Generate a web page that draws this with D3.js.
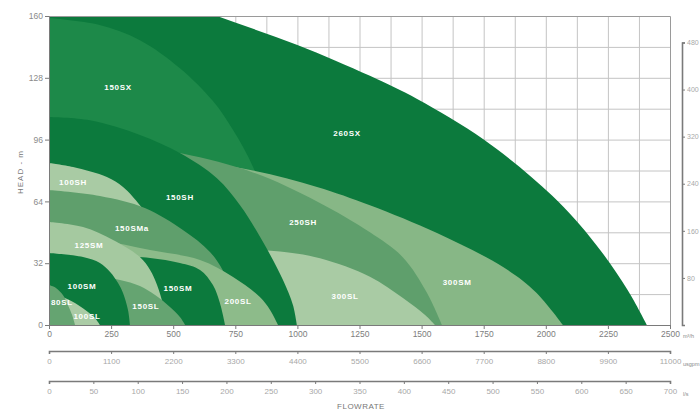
<!DOCTYPE html>
<html>
<head>
<meta charset="utf-8">
<script src="https://cdn.jsdelivr.net/npm/d3@7"></script>
<style>
body { margin:0; background:#fff; }
svg { display:block; font-family:"Liberation Sans", Arial, sans-serif; }
</style>
</head>
<body>
<div id="chart"></div>
<script>
// pump ranges: flow (m3/h), head (m) along each outer curve
const c260SX  = [[0,190],[300,178],[676,160],[1000,145],[1292,129],[1482,117],[1750,96],[2025,67],[2200,42],[2330,18],[2407,0]]
const c150SX  = [[0,159],[200,155.5],[366,147.5],[527,133],[660,116],[741,101],[821,82],[900,54],[940,28],[958,0]]
const c300SM  = [[0,92],[527,86],[821,80],[1079,71.5],[1292,62],[1562,47.6],[1828,30],[1960,17],[2069,0]]
const c250SH  = [[0,100],[527,89],[821,79],[1079,64],[1292,48],[1425,35],[1522,16.6],[1582,0]]
const c300SL  = [[0,42],[600,40],[930,38],[1091,34.5],[1292,25],[1425,14],[1514,5.2],[1554,0]]
const c150SH  = [[0,107.7],[165,106],[366,98.4],[527,89],[676,76],[769,62],[857,44],[942,23.3],[982,10.4],[998,0]]
const c100SH  = [[0,83.9],[97,81.8],[233,76.6],[298,71.5],[366,62],[407,54],[460,35],[490,0]]
const c150SMa = [[0,69.9],[205,66.8],[386,60.6],[539,49.2],[648,37.8],[709,25.9],[769,0]]
const c200SL  = [[0,46.6],[205,44],[407,38.8],[608,33.7],[741,24.9],[849,14.5],[890,7.8],[922,0]]
const c150SM  = [[0,36.2],[286,35.7],[407,34.7],[527,32.1],[608,28.5],[660,20.7],[688,11.4],[709,0]]
const c125SM  = [[0,53.3],[137,50.7],[258,44],[366,35.2],[407,28.5],[435,20.7],[459,10.4],[471,0]]
const c150SL  = [[0,27.4],[205,25.4],[286,23.3],[366,20.2],[427,15.5],[487,9.3],[527,4.1],[548,0]]
const c100SM  = [[0,37.3],[137,35.2],[205,32.1],[246,27.4],[278,21.7],[298,16.6],[318,7.8],[326,0]]
const c100SL  = [[0,16.6],[64,14],[117,10.4],[157,6.7],[185,3.6],[205,0]]
const c80SL   = [[0,20.7],[28,19.2],[56,15.5],[76,10.4],[93,5.2],[105,0]]

// back to front
const pumps  = ['260SX','150SX','300SM','250SH','300SL','150SH','100SH','150SMa','200SL','150SM','125SM','150SL','100SM','100SL','80SL']
const curves = [c260SX,c150SX,c300SM,c250SH,c300SL,c150SH,c100SH,c150SMa,c200SL,c150SM,c125SM,c150SL,c100SM,c100SL,c80SL]
// where the name sits (flow, head)
const labelFlow = [1200,278,1643,1023,1192,527,97,334,761,519,161,390,133,153,52]
const labelHead = [99.4,123,22.3,53.3,15,66.3,74,50.2,12.4,19.2,41.4,9.8,20.2,4.7,11.9]

const headTicks  = [0,32,64,96,128,160]
const flowTicks  = [0,250,500,750,1000,1250,1500,1750,2000,2250,2500]
const usgpmTicks = [0,1100,2200,3300,4400,5500,6600,7700,8800,9900,11000]
const lsTicks    = [0,50,100,150,200,250,300,350,400,450,500,550,600,650,700]
const ftTicks    = [0,80,160,240,320,400,480]

const shade = {
	'260SX':'#0c7a3d', '150SH':'#0c7a3d', '150SM':'#0c7a3d', '100SM':'#0c7a3d',
	'150SX':'#1d8949',
	'250SH':'#5f9f6c', '150SMa':'#5f9f6c', '150SL':'#65a471', '80SL':'#65a471',
	'300SM':'#87b786', '200SL':'#8dbb8a',
	'300SL':'#a9cba4', '100SH':'#a9cba4', '125SM':'#a5c9a0', '100SL':'#abcca6'
}

const W = 700, H = 411
const L = 49, R = 670, T = 16, B = 325

var x = d3.scaleLinear().domain([0,2500]).range([L,R])
var y = d3.scaleLinear().domain([0,160]).range([B,T])
var xg = d3.scaleLinear().domain([0,11000]).range([L,R])
var xl = d3.scaleLinear().domain([0,700]).range([L,R])
var yft = d3.scaleLinear().domain([0,480]).range([B, y(480/3.2808)])
var plain = d3.format('d')

var svg = d3.select('#chart').append('svg').attr('width',W).attr('height',H)

// grid
var grid = svg.append('g').attr('stroke','#c4c4c4').attr('stroke-width',1)
grid.selectAll('.gv').data(d3.range(125,2500,125)).enter().append('line')
	.attr('x1', d => x(d)+0.5).attr('x2', d => x(d)+0.5).attr('y1',T).attr('y2',B)
grid.selectAll('.gh').data(d3.range(16,160,16)).enter().append('line')
	.attr('y1', d => y(d)+0.5).attr('y2', d => y(d)+0.5).attr('x1',L).attr('x2',R)

svg.append('clipPath').attr('id','plot').append('rect')
	.attr('x',L).attr('y',T).attr('width',R-L).attr('height',B-T)

var area = d3.area()
	.x(d => x(d[0]))
	.y0(y(0))
	.y1(d => y(d[1]))
	.curve(d3.curveCatmullRom.alpha(0.5))

var g = svg.append('g').attr('clip-path','url(#plot)')
g.selectAll('path').data(pumps).enter().append('path')
	.attr('d', (d,i) => area(curves[i]))
	.attr('fill', d => shade[d])

g.selectAll('text').data(pumps).enter().append('text')
	.attr('x', (d,i) => x(labelFlow[i]))
	.attr('y', (d,i) => y(labelHead[i]) + 3)
	.attr('text-anchor','middle')
	.attr('font-size','8px')
	.attr('font-weight','bold')
	.attr('letter-spacing','0.7px')
	.attr('fill','#fff')
	.text(d => d)

// frame top / right
svg.append('path')
	.attr('d', 'M'+L+','+(T+0.5)+'H'+(R+0.5)+'V'+B)
	.attr('fill','none').attr('stroke','#9a9a9a').attr('stroke-width',1)

function styleAxis(sel, col, lw, fs)
{
	sel.select('.domain').attr('stroke','#7a7a7a').attr('stroke-width',lw)
	sel.selectAll('.tick line').attr('stroke','#7a7a7a')
	sel.selectAll('.tick text').attr('fill',col).attr('font-size',fs)
		.attr('font-family','"Liberation Sans", Arial, sans-serif')
}

var ay = svg.append('g').attr('transform','translate('+L+',0)')
	.call(d3.axisLeft(y).tickValues(headTicks).tickSize(4).tickSizeOuter(0).tickPadding(2).tickFormat(plain))
styleAxis(ay, '#8a8a8a', 1, '8.5px')

var ax = svg.append('g').attr('transform','translate(0,'+B+')')
	.call(d3.axisBottom(x).tickValues(flowTicks).tickSize(4).tickSizeOuter(0).tickPadding(2).tickFormat(plain))
styleAxis(ax, '#7d7d7d', 1, '8.5px')

var ag = svg.append('g').attr('transform','translate(0,351)')
	.call(d3.axisBottom(xg).tickValues(usgpmTicks).tickSize(3).tickSizeOuter(3).tickPadding(4).tickFormat(plain))
styleAxis(ag, '#a8a8a8', 1.6, '8px')

var al = svg.append('g').attr('transform','translate(0,381)')
	.call(d3.axisBottom(xl).tickValues(lsTicks).tickSize(3).tickSizeOuter(3).tickPadding(4).tickFormat(plain))
styleAxis(al, '#a8a8a8', 1.6, '8px')

var ar = svg.append('g').attr('transform','translate(682,0)')
	.call(d3.axisRight(yft).tickValues(ftTicks).tickSize(3).tickSizeOuter(3).tickPadding(2)
		.tickFormat(d => d == 0 ? '' : plain(d)))
styleAxis(ar, '#a8a8a8', 1.6, '7px')

// units
var units = [['m³/h', B+13], ['usgpm', 366], ['l/s', 396]]
svg.selectAll('.unit').data(units).enter().append('text')
	.attr('x', 683).attr('y', d => d[1])
	.attr('font-size','5.5px').attr('fill','#8a8a8a')
	.text(d => d[0])

svg.append('text')
	.attr('transform','translate(23,172) rotate(-90)')
	.attr('text-anchor','middle')
	.attr('font-size','8px').attr('fill','#777')
	.attr('letter-spacing','1px')
	.text('HEAD - m')

svg.append('text')
	.attr('x', 361).attr('y', 409)
	.attr('text-anchor','middle')
	.attr('font-size','8px').attr('fill','#777')
	.attr('letter-spacing','0.5px')
	.text('FLOWRATE')
</script>
</body>
</html>
